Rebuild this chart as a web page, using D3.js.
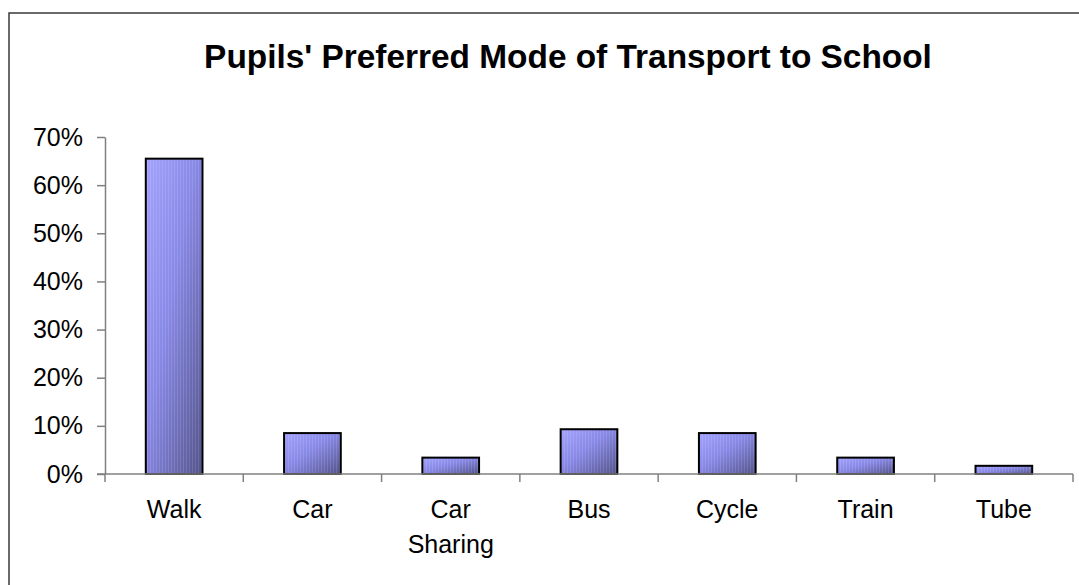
<!DOCTYPE html>
<html>
<head>
<meta charset="utf-8">
<script src="https://cdn.jsdelivr.net/npm/d3@7"></script>
<style>
  html, body { margin: 0; padding: 0; background: #fff; }
  svg { display: block; }
  text { font-family: "Liberation Sans", Arial, sans-serif; fill: #000; }
</style>
</head>
<body>
<svg id="chart" width="1079" height="585"></svg>
<script>
const categories = ["Walk", "Car", "Car\nSharing", "Bus", "Cycle", "Train", "Tube"];
const values = [0.655, 0.085, 0.034, 0.093, 0.085, 0.034, 0.017];
const yTicks = [0, 0.1, 0.2, 0.3, 0.4, 0.5, 0.6, 0.7];
const titleText = "Pupils' Preferred Mode of Transport to School";

(function () {
const svg = d3.select("#chart");
const plotLeft = 105, plotRight = 1073, plotTop = 137, plotBottom = 474;

const defs = svg.append("defs");
const grad = defs.append("linearGradient").attr("id", "barGrad")
  .attr("x1", 0).attr("y1", 0).attr("x2", 1).attr("y2", 1);
grad.append("stop").attr("offset", "0%").attr("stop-color", "#a3a3ff");
grad.append("stop").attr("offset", "45%").attr("stop-color", "#8888e6");
grad.append("stop").attr("offset", "100%").attr("stop-color", "#53538a");
const pat = defs.append("pattern").attr("id", "stripes")
  .attr("width", 3).attr("height", 4).attr("patternUnits", "userSpaceOnUse");
pat.append("rect").attr("x", 0).attr("y", 0).attr("width", 1).attr("height", 4)
  .attr("fill", "#ffffff").attr("opacity", 0.12);

svg.append("rect").attr("x", 9).attr("y", 13).attr("width", 1200).attr("height", 700)
  .attr("fill", "none").attr("stroke", "#3a3a3a").attr("stroke-width", 1.5);

svg.append("text").attr("x", 568).attr("y", 68).attr("text-anchor", "middle")
  .style("font-size", "33.4px").style("font-weight", "bold").text(titleText);

const x = d3.scaleBand().domain(categories).range([plotLeft, plotRight]).padding(0);
const y = d3.scaleLinear().domain([0, 0.7]).range([plotBottom, plotTop]);

const barW = x.bandwidth() * 0.41;

const bars = svg.append("g");
categories.forEach((c, i) => {
  const bx = x(c) + (x.bandwidth() - barW) / 2;
  const by = y(values[i]);
  const bh = y(0) - by;
  bars.append("rect").attr("x", bx).attr("y", by).attr("width", barW).attr("height", bh)
    .attr("fill", "url(#barGrad)");
  bars.append("rect").attr("x", bx).attr("y", by).attr("width", barW).attr("height", bh)
    .attr("fill", "url(#stripes)");
  bars.append("rect").attr("x", bx).attr("y", by).attr("width", barW).attr("height", bh)
    .attr("fill", "none").attr("stroke", "#000").attr("stroke-width", 2);
});

const yAxis = d3.axisLeft(y).tickValues(yTicks).tickFormat(d3.format(".0%"))
  .tickSizeInner(8).tickSizeOuter(0).tickPadding(14);
const gy = svg.append("g").attr("transform", `translate(${plotLeft},0)`).call(yAxis);
gy.select(".domain").attr("stroke", "#808080").attr("stroke-width", 1.5);
gy.selectAll(".tick line").attr("stroke", "#808080").attr("stroke-width", 1.5);
gy.selectAll(".tick text").style("font-size", "25px").style("font-family", "'Liberation Sans', Arial, sans-serif")
  .attr("fill", "#000");

const xAxis = d3.axisBottom(x).tickSize(0).tickFormat(() => "");
const gx = svg.append("g").attr("transform", `translate(0,${plotBottom})`).call(xAxis);
gx.select(".domain").remove();
gx.append("line").attr("x1", plotLeft - 8).attr("x2", plotRight).attr("y1", 0).attr("y2", 0)
  .attr("stroke", "#808080").attr("stroke-width", 1.5);
const bounds = categories.map(c => x(c)).concat([x(categories[categories.length - 1]) + x.bandwidth()]);
gx.selectAll(".btick").data(bounds).enter().append("line")
  .attr("x1", d => d).attr("x2", d => d).attr("y1", 0).attr("y2", 8)
  .attr("stroke", "#808080").attr("stroke-width", 1.5);
categories.forEach(c => {
  const t = gx.append("text").attr("text-anchor", "middle")
    .attr("x", x(c) + x.bandwidth() / 2).attr("y", 44)
    .style("font-size", "25px");
  c.split("\n").forEach((line, j) => {
    t.append("tspan").attr("x", x(c) + x.bandwidth() / 2).attr("dy", j === 0 ? 0 : 35).text(line);
  });
});
})();
</script>
</body>
</html>
